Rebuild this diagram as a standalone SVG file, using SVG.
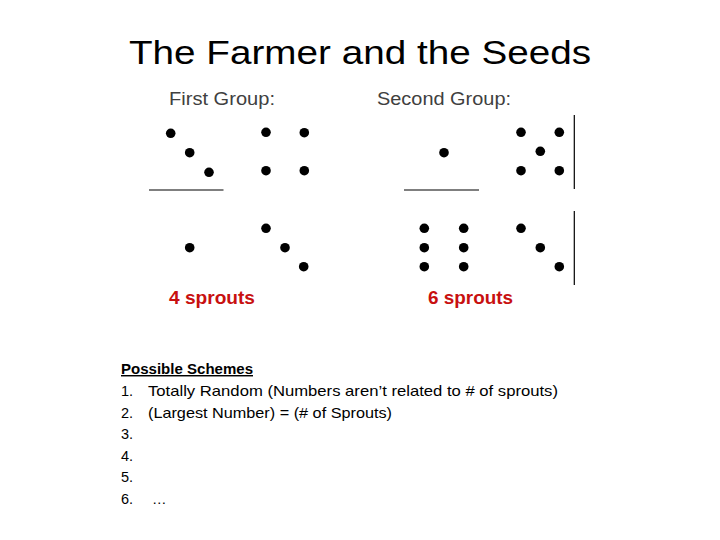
<svg xmlns="http://www.w3.org/2000/svg" width="720" height="540" viewBox="0 0 720 540">
<style>
.t{font-family:"Liberation Sans","Open Sans",sans-serif;}
.title{font-size:34px;fill:#000;}
.grp{font-size:18px;fill:#404040;}
.spr{font-size:18px;font-weight:bold;fill:#c81010;}
.body{font-size:14.5px;fill:#000;}
.dot{fill:#000;}
.ln{stroke:#000;stroke-width:1.2;fill:none;}
</style>
<rect width="720" height="540" fill="#fff"/>
<text class="t title" x="360" y="64" text-anchor="middle" textLength="462" lengthAdjust="spacingAndGlyphs">The Farmer and the Seeds</text>

<g id="first-group">
<text class="t grp" x="169" y="105" textLength="106" lengthAdjust="spacingAndGlyphs">First Group:</text>
<g class="dot">
<circle cx="170.7" cy="133.3" r="4.8"/>
<circle cx="189.7" cy="152.7" r="4.8"/>
<circle cx="209" cy="172.3" r="4.8"/>
<circle cx="266" cy="132.3" r="4.8"/>
<circle cx="304.3" cy="132.7" r="4.8"/>
<circle cx="266" cy="170.7" r="4.8"/>
<circle cx="304.3" cy="170.7" r="4.8"/>
<circle cx="189.7" cy="247.7" r="4.8"/>
<circle cx="266" cy="228.3" r="4.8"/>
<circle cx="285" cy="247.7" r="4.8"/>
<circle cx="303.7" cy="266.7" r="4.8"/>
</g>
<line class="ln" x1="149" y1="190" x2="223.5" y2="190"/>
<text class="t spr" x="169" y="304" textLength="86" lengthAdjust="spacingAndGlyphs">4 sprouts</text>
</g>

<g id="second-group">
<text class="t grp" x="377" y="105" textLength="134" lengthAdjust="spacingAndGlyphs">Second Group:</text>
<g class="dot">
<circle cx="444" cy="152.7" r="4.8"/>
<circle cx="521" cy="132.3" r="4.8"/>
<circle cx="559.3" cy="132.3" r="4.8"/>
<circle cx="540.3" cy="151.3" r="4.8"/>
<circle cx="521" cy="170.7" r="4.8"/>
<circle cx="559.3" cy="170.7" r="4.8"/>
<circle cx="424.3" cy="228.3" r="4.8"/>
<circle cx="424.3" cy="247.7" r="4.8"/>
<circle cx="424.3" cy="266.7" r="4.8"/>
<circle cx="463.7" cy="228.3" r="4.8"/>
<circle cx="463.7" cy="247.7" r="4.8"/>
<circle cx="463.7" cy="266.7" r="4.8"/>
<circle cx="521" cy="228.3" r="4.8"/>
<circle cx="540.3" cy="247.7" r="4.8"/>
<circle cx="559.3" cy="266.7" r="4.8"/>
</g>
<line class="ln" x1="404" y1="190" x2="479" y2="190"/>
<line class="ln" x1="574.3" y1="115" x2="574.3" y2="189"/>
<line class="ln" x1="574.3" y1="211" x2="574.3" y2="285"/>
<text class="t spr" x="428" y="304" textLength="85" lengthAdjust="spacingAndGlyphs">6 sprouts</text>
</g>

<g id="schemes">
<text class="t body" x="121" y="374" font-weight="bold" text-decoration="underline" textLength="132" lengthAdjust="spacingAndGlyphs">Possible Schemes</text>
<text class="t body" x="121" y="396">1.</text>
<text class="t body" x="148" y="396" textLength="410" lengthAdjust="spacingAndGlyphs">Totally Random (Numbers aren’t related to # of sprouts)</text>
<text class="t body" x="121" y="418">2.</text>
<text class="t body" x="148" y="418" textLength="244" lengthAdjust="spacingAndGlyphs">(Largest Number) = (# of Sprouts)</text>
<text class="t body" x="121" y="439">3.</text>
<text class="t body" x="121" y="461">4.</text>
<text class="t body" x="121" y="482">5.</text>
<text class="t body" x="121" y="504">6.</text>
<text class="t body" x="152" y="504">…</text>
</g>
</svg>
